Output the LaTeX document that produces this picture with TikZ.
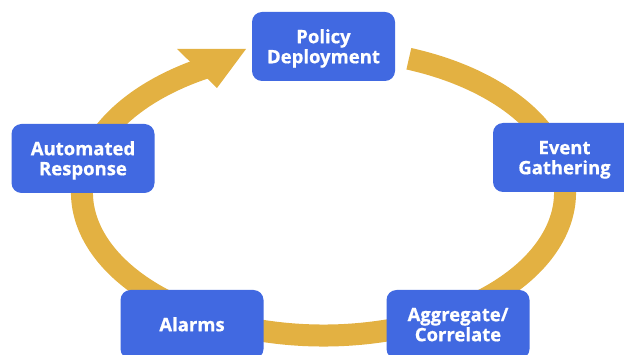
\documentclass[tikz,border=0pt]{standalone}
\usepackage{fontspec}
\setmainfont{Open Sans}[BoldFeatures={FakeBold=0.6}]
\usepackage{tikz}
\usetikzlibrary{positioning, calc}
\definecolor{stageblue}{RGB}{65,105,225}
\definecolor{ringgold}{RGB}{227,177,66}
% struts keep every label on the same grid, then nudge it down a little
\newcommand{\stagetext}[1]{\raisebox{-2.7pt}[\height][\depth]{\begin{tabular}{@{}c@{}}#1\end{tabular}}}

\begin{document}
\begin{tikzpicture}[
    x=1pt, y=-1pt,
    stage/.style={rectangle, rounded corners=10pt, fill=stageblue, text=white,
                minimum width=143pt, minimum height=69pt, inner sep=0pt,
                font=\bfseries\fontsize{18.5}{20}\selectfont},
    ring/.style={draw=ringgold, line width=22pt}
]
\useasboundingbox (0,0) rectangle (624,355);
\clip (0,0) rectangle (624,355);
\coordinate (centre) at (323.5,192.5);
% the cycle ring, drawn first so the stages sit on top
\draw[ring] ($(centre)+(-69.3:241.5 and 143)$)
    arc[start angle=-69.3, end angle=241, x radius=241.5, y radius=143];
\coordinate (headback) at (177,49);
\coordinate (headtip) at (246,49);
\coordinate (headfoot) at (217,88);
\fill[ringgold] (headback) -- (headtip) -- (headfoot) -- cycle;
\node[stage] (deploy) at (323.5,46.5) {\stagetext{Policy\\Deployment}};
\node[stage] (gather) at (564.5,157.5) {\stagetext{Event\\Gathering}};
\node[stage] (correlate) at (458,324.5) {\stagetext{Aggregate/\\Correlate}};
\node[stage] (alarms) at (192,324.5) {\stagetext{Alarms}};
\node[stage] (respond) at (83,158.5) {\stagetext{Automated\\Response}};
\end{tikzpicture}
\end{document}
